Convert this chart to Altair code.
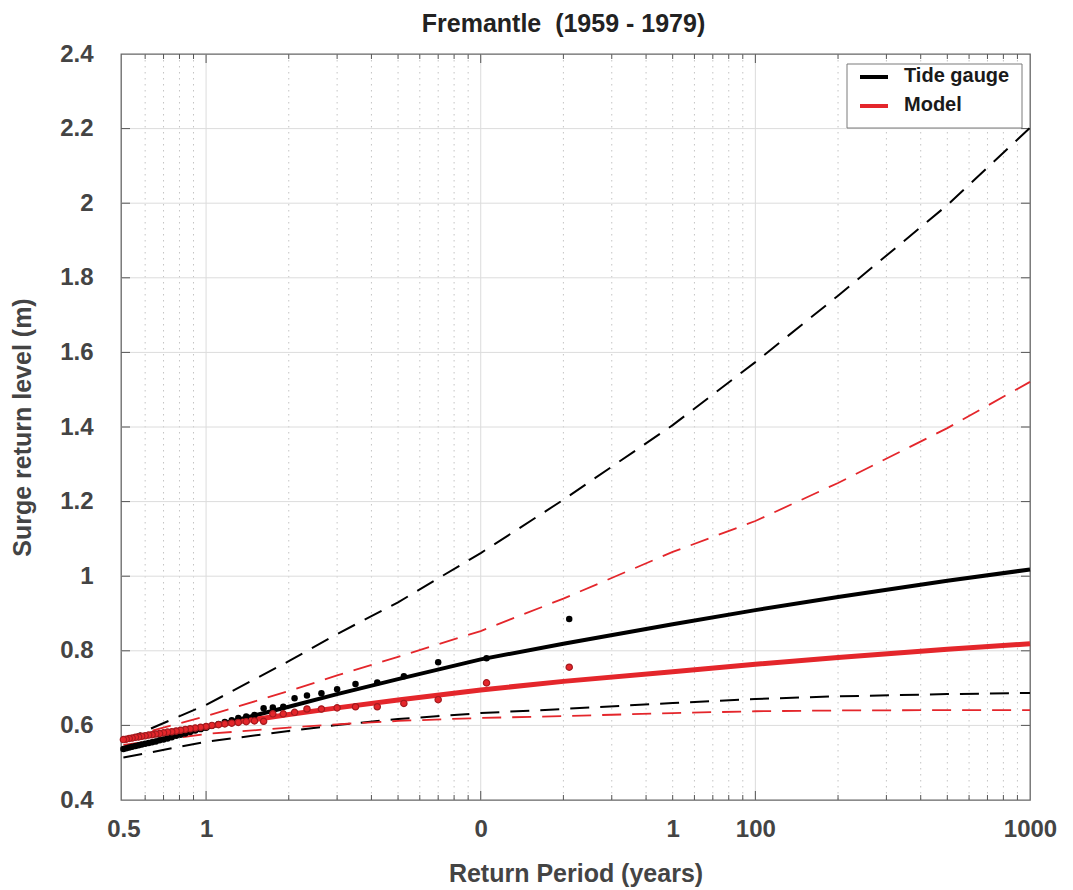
import altair as alt
import pandas as pd

W, H = 909, 746
FONT = "Liberation Sans"
RED = "#e4262b"
DARKRED = "#a31a1e"
GREY = "#444444"

# ---------------- data ----------------
fit_T = [0.5, 1, 2, 3, 5, 10, 20, 50, 100, 200, 500, 1000]
tg_fit   = [0.537, 0.593, 0.650, 0.684, 0.724, 0.777, 0.819, 0.871, 0.909, 0.944, 0.988, 1.018]
tg_upper = [0.560, 0.655, 0.772, 0.845, 0.930, 1.062, 1.205, 1.405, 1.574, 1.752, 1.995, 2.202]
tg_lower = [0.514, 0.556, 0.585, 0.601, 0.617, 0.633, 0.644, 0.660, 0.671, 0.678, 0.684, 0.687]
md_fit   = [0.562, 0.597, 0.629, 0.647, 0.668, 0.695, 0.718, 0.744, 0.764, 0.782, 0.804, 0.819]
md_upper = [0.565, 0.625, 0.692, 0.734, 0.784, 0.853, 0.940, 1.065, 1.148, 1.250, 1.397, 1.521]
md_lower = [0.548, 0.577, 0.594, 0.603, 0.612, 0.620, 0.625, 0.633, 0.638, 0.640, 0.641, 0.641]

emp_T = [21.0, 10.5, 7.0, 5.25, 4.2, 3.5, 3.0, 2.63, 2.33, 2.1, 1.91, 1.75, 1.62, 1.5,
         1.4, 1.31, 1.24, 1.17, 1.11, 1.05, 1.0, 0.955, 0.913, 0.875, 0.84, 0.808,
         0.778, 0.75, 0.724, 0.70, 0.677, 0.656, 0.636, 0.618, 0.60, 0.583, 0.568,
         0.553, 0.538, 0.525, 0.512, 0.50]
tg_emp = [0.885, 0.780, 0.769, 0.732, 0.715, 0.711, 0.697, 0.686, 0.680, 0.673, 0.650,
          0.648, 0.646, 0.628, 0.624, 0.620, 0.614, 0.609, 0.604, 0.599, 0.594, 0.590,
          0.586, 0.582, 0.578, 0.575, 0.572, 0.568, 0.565, 0.562, 0.560, 0.557, 0.555,
          0.553, 0.551, 0.549, 0.547, 0.545, 0.543, 0.541, 0.539, 0.537]
md_emp = [0.756, 0.714, 0.669, 0.659, 0.650, 0.650, 0.647, 0.644, 0.644, 0.635, 0.631,
          0.631, 0.611, 0.612, 0.610, 0.608, 0.606, 0.604, 0.602, 0.600, 0.597, 0.595,
          0.593, 0.591, 0.589, 0.587, 0.585, 0.583, 0.582, 0.580, 0.578, 0.577, 0.575,
          0.574, 0.572, 0.571, 0.569, 0.568, 0.566, 0.565, 0.563, 0.562]

x_tick_vals = [0.5, 1, 10, 50, 100, 1000]
x_tick_text = ["0.5", "1", "0", "1", "100", "1000"]
y_tick_vals = [0.4, 0.6, 0.8, 1.0, 1.2, 1.4, 1.6, 1.8, 2.0, 2.2, 2.4]
y_tick_text = ["0.4", "0.6", "0.8", "1", "1.2", "1.4", "1.6", "1.8", "2", "2.2", "2.4"]
x_major = [1, 10, 100]
x_minor = [0.6, 0.7, 0.8, 0.9, 2, 3, 4, 5, 6, 7, 8, 9,
           20, 30, 40, 50, 60, 70, 80, 90, 200, 300, 400, 500, 600, 700, 800, 900]
y_grid = [0.6, 0.8, 1.0, 1.2, 1.4, 1.6, 1.8, 2.0, 2.2]
legend_labels = ["Tide gauge", "Model"]

# ---------------- tables ----------------
def curve(src, bound, ys):
    return pd.DataFrame({"T": fit_T, "level": ys, "source": src, "bound": bound})

df_tg_fit = curve("Tide gauge", "fit", tg_fit)
df_md_fit = curve("Model", "fit", md_fit)
df_tg_ci = pd.concat([curve("Tide gauge", "upper", tg_upper), curve("Tide gauge", "lower", tg_lower)])
df_md_ci = pd.concat([curve("Model", "upper", md_upper), curve("Model", "lower", md_lower)])
df_tg_pts = pd.DataFrame({"T": emp_T, "level": tg_emp})
df_md_pts = pd.DataFrame({"T": emp_T, "level": md_emp})
df_major = pd.DataFrame({"T": x_major})
df_minor = pd.DataFrame({"T": x_minor})
df_ygrid = pd.DataFrame({"level": y_grid})
one = pd.DataFrame({"a": [0]})


def label_expr(vals, texts):
    expr = "''"
    for v, t in reversed(list(zip(vals, texts))):
        expr = f"abs(datum.value - {v}) < 0.000001 ? '{t}' : ({expr})"
    return expr


xscale = alt.Scale(type="log", domain=[0.49, 1000], nice=False)
yscale = alt.Scale(domain=[0.4, 2.4], nice=False, zero=False)

x_axis = alt.Axis(values=x_tick_vals, labelExpr=label_expr(x_tick_vals, x_tick_text),
                  ticks=False, domain=False, grid=False, labelFlush=False, labelOverlap=False,
                  labelFont=FONT, labelFontSize=24, labelFontWeight="bold", labelColor=GREY,
                  labelPadding=17, title="Return Period (years)", titleFont=FONT,
                  titleFontSize=25, titleFontWeight="bold", titleColor=GREY, titlePadding=20)
y_axis = alt.Axis(values=y_tick_vals, labelExpr=label_expr(y_tick_vals, y_tick_text),
                  ticks=False, domain=False, grid=False, labelFlush=False, labelOverlap=False,
                  labelFont=FONT, labelFontSize=24, labelFontWeight="bold", labelColor=GREY,
                  labelPadding=28, title="Surge return level (m)", titleFont=FONT,
                  titleFontSize=25, titleFontWeight="bold", titleColor=GREY, titlePadding=24)


def X():
    return alt.X("T:Q", scale=xscale, axis=x_axis)


def Y():
    return alt.Y("level:Q", scale=yscale, axis=y_axis)


# ---------------- grid & ticks ----------------
grid_minor = alt.Chart(df_minor).mark_rule(color="#c4c4c4", strokeWidth=1, strokeDash=[1.5, 4.5]).encode(
    x=X(), y=alt.value(0), y2=alt.value(H))
grid_major = alt.Chart(df_major).mark_rule(color="#dcdcdc", strokeWidth=1).encode(
    x=X(), y=alt.value(0), y2=alt.value(H))
grid_y = alt.Chart(df_ygrid).mark_rule(color="#dcdcdc", strokeWidth=1).encode(
    y=Y(), x=alt.value(0), x2=alt.value(W))

TC = "#555555"
tick_b_major = alt.Chart(df_major).mark_rule(color=TC, strokeWidth=1).encode(
    x=X(), y=alt.value(H), y2=alt.value(H - 9))
tick_t_major = alt.Chart(df_major).mark_rule(color=TC, strokeWidth=1).encode(
    x=X(), y=alt.value(0), y2=alt.value(9))
tick_b_minor = alt.Chart(df_minor).mark_rule(color=TC, strokeWidth=1).encode(
    x=X(), y=alt.value(H), y2=alt.value(H - 5))
tick_t_minor = alt.Chart(df_minor).mark_rule(color=TC, strokeWidth=1).encode(
    x=X(), y=alt.value(0), y2=alt.value(5))
tick_l = alt.Chart(df_ygrid).mark_rule(color=TC, strokeWidth=1).encode(
    y=Y(), x=alt.value(0), x2=alt.value(9))
tick_r = alt.Chart(df_ygrid).mark_rule(color=TC, strokeWidth=1).encode(
    y=Y(), x=alt.value(W), x2=alt.value(W - 9))

# ---------------- data marks ----------------
tg_ci = alt.Chart(df_tg_ci).mark_line(color="black", strokeWidth=2, strokeDash=[19, 11]).encode(
    x=X(), y=Y(), detail="bound:N")
md_ci = alt.Chart(df_md_ci).mark_line(color=RED, strokeWidth=1.8, strokeDash=[19, 11]).encode(
    x=X(), y=Y(), detail="bound:N")
tg_line = alt.Chart(df_tg_fit).mark_line(color="black", strokeWidth=4).encode(x=X(), y=Y())
md_line = alt.Chart(df_md_fit).mark_line(color=RED, strokeWidth=5).encode(x=X(), y=Y())
tg_pts = alt.Chart(df_tg_pts).mark_circle(color="black", size=42, opacity=1).encode(x=X(), y=Y())
md_pts = alt.Chart(df_md_pts).mark_point(filled=True, fill=RED, stroke=DARKRED, strokeWidth=1.2,
                                         size=40, opacity=1).encode(x=X(), y=Y())

# ---------------- legend (box in the upper right corner) ----------------
LX0, LX1, LY0, LY1 = 726, 901, 10, 74
leg_box = alt.Chart(one).mark_rect(fill="white", stroke="#7a7a7a", strokeWidth=1).encode(
    x=alt.value(LX0), x2=alt.value(LX1), y=alt.value(LY0), y2=alt.value(LY1))
leg_l1 = alt.Chart(one).mark_rule(color="black", strokeWidth=4).encode(
    x=alt.value(739), x2=alt.value(767), y=alt.value(23))
leg_l2 = alt.Chart(one).mark_rule(color=RED, strokeWidth=4).encode(
    x=alt.value(739), x2=alt.value(767), y=alt.value(52))
leg_t1 = alt.Chart(one).mark_text(text=legend_labels[0], align="left", baseline="middle", font=FONT,
                                  fontSize=20, fontWeight="bold", color="#1a1a1a").encode(
    x=alt.value(783), y=alt.value(22))
leg_t2 = alt.Chart(one).mark_text(text=legend_labels[1], align="left", baseline="middle", font=FONT,
                                  fontSize=20, fontWeight="bold", color="#1a1a1a").encode(
    x=alt.value(783), y=alt.value(51))

chart = alt.layer(
    grid_minor, grid_major, grid_y,
    tick_b_major, tick_t_major, tick_b_minor, tick_t_minor, tick_l, tick_r,
    tg_line, tg_ci, md_ci, md_line, tg_pts, md_pts,
    leg_box, leg_l1, leg_l2, leg_t1, leg_t2,
).properties(
    width=W, height=H,
    title=alt.TitleParams(text="Fremantle \u00a0(1959 - 1979)", font=FONT, fontSize=25,
                          fontWeight="bold", color="#222222", anchor="middle", frame="group",
                          offset=5, dx=-12),
    autosize=alt.AutoSizeParams(type="none"),
    padding={"left": 113, "top": 46, "right": 35, "bottom": 88},
).configure_view(stroke="#666666", strokeWidth=1.3)

chart.save("out.html", embed_options={"renderer": "svg", "actions": False})
